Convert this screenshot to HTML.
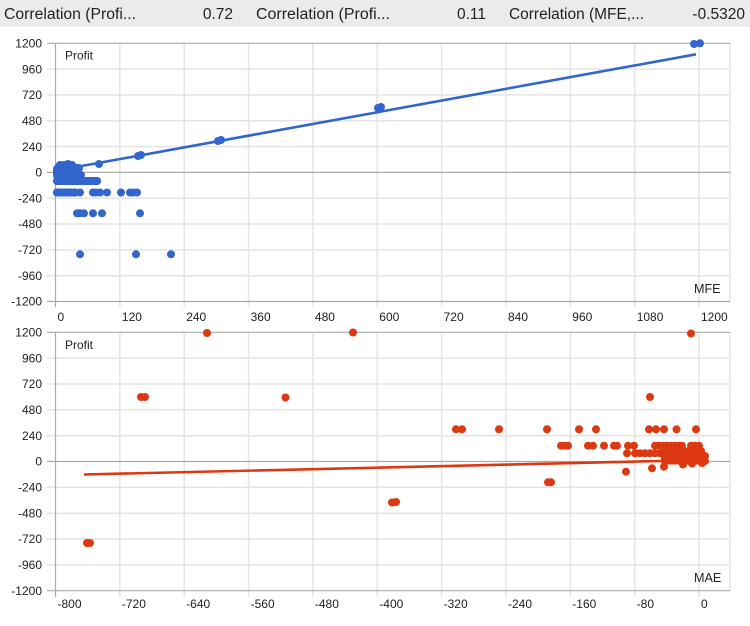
<!DOCTYPE html>
<html><head><meta charset="utf-8"><style>
html,body{margin:0;padding:0;background:#fff;}
svg{display:block;}
text{font-family:"Liberation Sans",Arial,sans-serif;fill:#222;}
</style></head><body>
<svg width="750" height="626" viewBox="0 0 750 626" xmlns="http://www.w3.org/2000/svg">
<rect x="0" y="0" width="750" height="27" fill="#ebebeb"/>
<g font-size="15.5">
<text x="4" y="19" textLength="132" lengthAdjust="spacingAndGlyphs">Correlation (Profi...</text>
<text x="233" y="19" text-anchor="end">0.72</text>
<text x="256" y="19" textLength="134" lengthAdjust="spacingAndGlyphs">Correlation (Profi...</text>
<text x="486" y="19" text-anchor="end">0.11</text>
<text x="509" y="19" textLength="135" lengthAdjust="spacingAndGlyphs">Correlation (MFE,...</text>
<text x="745" y="19" text-anchor="end">-0.5320</text>
</g>

<!-- ========== TOP CHART ========== -->
<g stroke="#e4e4e4" stroke-width="1.5">
<line x1="55.5" y1="69.1" x2="730" y2="69.1"/>
<line x1="55.5" y1="94.9" x2="730" y2="94.9"/>
<line x1="55.5" y1="120.8" x2="730" y2="120.8"/>
<line x1="55.5" y1="146.6" x2="730" y2="146.6"/>
<line x1="55.5" y1="198.2" x2="730" y2="198.2"/>
<line x1="55.5" y1="224.0" x2="730" y2="224.0"/>
<line x1="55.5" y1="249.9" x2="730" y2="249.9"/>
<line x1="55.5" y1="275.7" x2="730" y2="275.7"/>
<line x1="119.85" y1="43.3" x2="119.85" y2="301.5"/>
<line x1="184.2" y1="43.3" x2="184.2" y2="301.5"/>
<line x1="248.55" y1="43.3" x2="248.55" y2="301.5"/>
<line x1="312.9" y1="43.3" x2="312.9" y2="301.5"/>
<line x1="377.25" y1="43.3" x2="377.25" y2="301.5"/>
<line x1="441.6" y1="43.3" x2="441.6" y2="301.5"/>
<line x1="505.95" y1="43.3" x2="505.95" y2="301.5"/>
<line x1="570.3" y1="43.3" x2="570.3" y2="301.5"/>
<line x1="634.65" y1="43.3" x2="634.65" y2="301.5"/>
<line x1="699" y1="43.3" x2="699" y2="301.5"/>
<line x1="730" y1="43.3" x2="730" y2="301.5"/>
</g>
<g stroke="#e4e4e4" stroke-width="1.5">
<line x1="119.85" y1="301.5" x2="119.85" y2="307"/>
<line x1="184.2" y1="301.5" x2="184.2" y2="307"/>
<line x1="248.55" y1="301.5" x2="248.55" y2="307"/>
<line x1="312.9" y1="301.5" x2="312.9" y2="307"/>
<line x1="377.25" y1="301.5" x2="377.25" y2="307"/>
<line x1="441.6" y1="301.5" x2="441.6" y2="307"/>
<line x1="505.95" y1="301.5" x2="505.95" y2="307"/>
<line x1="570.3" y1="301.5" x2="570.3" y2="307"/>
<line x1="634.65" y1="301.5" x2="634.65" y2="307"/>
<line x1="699" y1="301.5" x2="699" y2="307"/>
<line x1="47" y1="69.1" x2="55.5" y2="69.1"/>
<line x1="47" y1="94.9" x2="55.5" y2="94.9"/>
<line x1="47" y1="120.8" x2="55.5" y2="120.8"/>
<line x1="47" y1="146.6" x2="55.5" y2="146.6"/>
<line x1="47" y1="198.2" x2="55.5" y2="198.2"/>
<line x1="47" y1="224.0" x2="55.5" y2="224.0"/>
<line x1="47" y1="249.9" x2="55.5" y2="249.9"/>
<line x1="47" y1="275.7" x2="55.5" y2="275.7"/>
</g>
<g stroke="#aaaaaa" stroke-width="1.2">
<line x1="47" y1="43.3" x2="730" y2="43.3"/>
<line x1="47" y1="172.4" x2="730" y2="172.4"/>
<line x1="47" y1="301.5" x2="730" y2="301.5"/>
<line x1="55.5" y1="43.3" x2="55.5" y2="307"/>
</g>
<g font-size="12" text-anchor="end">
<text x="42" y="47.5">1200</text>
<text x="42" y="73.3">960</text>
<text x="42" y="99.1">720</text>
<text x="42" y="125">480</text>
<text x="42" y="150.8">240</text>
<text x="42" y="176.6">0</text>
<text x="42" y="202.4">-240</text>
<text x="42" y="228.2">-480</text>
<text x="42" y="254.1">-720</text>
<text x="42" y="279.9">-960</text>
<text x="42" y="305.7">-1200</text>
</g>
<g font-size="12">
<text x="57.5" y="321">0</text>
<text x="121.9" y="321">120</text>
<text x="186.2" y="321">240</text>
<text x="250.6" y="321">360</text>
<text x="314.9" y="321">480</text>
<text x="379.3" y="321">600</text>
<text x="443.6" y="321">720</text>
<text x="508" y="321">840</text>
<text x="572.3" y="321">960</text>
<text x="636.7" y="321">1080</text>
<text x="701" y="321">1200</text>
<text x="65" y="59.5">Profit</text>
<text x="694" y="293" font-size="12.6">MFE</text>
</g>
<line x1="57" y1="170.5" x2="696" y2="54.3" stroke="#3366cc" stroke-width="2.6"/>
<g fill="#3366cc">
<rect x="53" y="164" width="28" height="16" rx="5"/>
<rect x="53" y="177" width="48" height="8" rx="4"/>
<rect x="53" y="188.5" width="26" height="8" rx="4"/>
<circle cx="694" cy="44" r="4"/><circle cx="700" cy="43.3" r="4"/>
<circle cx="378" cy="108" r="4"/><circle cx="381" cy="107" r="4"/>
<circle cx="218" cy="141" r="4"/><circle cx="221" cy="140" r="4"/>
<circle cx="138" cy="156" r="4"/><circle cx="141" cy="155" r="4"/>
<circle cx="99" cy="164" r="4"/>
<circle cx="79" cy="168" r="4"/>
<circle cx="60" cy="165" r="4"/><circle cx="64" cy="165" r="4"/><circle cx="68" cy="164" r="4"/><circle cx="72" cy="165" r="4"/>
<circle cx="57" cy="170" r="4"/><circle cx="61" cy="170" r="4"/><circle cx="65" cy="170" r="4"/><circle cx="69" cy="170" r="4"/><circle cx="73" cy="170" r="4"/><circle cx="77" cy="171" r="4"/>
<circle cx="57" cy="175" r="4"/><circle cx="61" cy="175" r="4"/><circle cx="65" cy="175" r="4"/><circle cx="69" cy="175" r="4"/><circle cx="73" cy="175" r="4"/><circle cx="77" cy="175" r="4"/><circle cx="81" cy="175" r="4"/>
<circle cx="57" cy="181" r="4"/><circle cx="61" cy="181" r="4"/><circle cx="65" cy="181" r="4"/><circle cx="69" cy="181" r="4"/><circle cx="73" cy="181" r="4"/><circle cx="77" cy="181" r="4"/><circle cx="81" cy="181" r="4"/><circle cx="85" cy="181" r="4"/><circle cx="89" cy="181" r="4"/><circle cx="93" cy="181" r="4"/><circle cx="97" cy="181" r="4"/>
<circle cx="57" cy="192.5" r="4"/><circle cx="60" cy="192.5" r="4"/><circle cx="63" cy="192.5" r="4"/><circle cx="66" cy="192.5" r="4"/><circle cx="69" cy="192.5" r="4"/><circle cx="72" cy="192.5" r="4"/><circle cx="75" cy="192.5" r="4"/><circle cx="80" cy="192.5" r="4"/>
<circle cx="93" cy="192.5" r="4"/><circle cx="96" cy="192.5" r="4"/><circle cx="100" cy="192.5" r="4"/><circle cx="107" cy="192.5" r="4"/><circle cx="121" cy="192.5" r="4"/><circle cx="130" cy="192.5" r="4"/><circle cx="133" cy="192.5" r="4"/><circle cx="137" cy="192.5" r="4"/>
<circle cx="77" cy="213.3" r="4"/><circle cx="80" cy="213.3" r="4"/><circle cx="84" cy="213.3" r="4"/><circle cx="93" cy="213.3" r="4"/><circle cx="102" cy="213.3" r="4"/><circle cx="140" cy="213.3" r="4"/>
<circle cx="80" cy="254.3" r="4"/><circle cx="136" cy="254.3" r="4"/><circle cx="171" cy="254.3" r="4"/>
</g>

<!-- ========== BOTTOM CHART ========== -->
<g stroke="#e4e4e4" stroke-width="1.5">
<line x1="55.5" y1="358.1" x2="730" y2="358.1"/>
<line x1="55.5" y1="384.0" x2="730" y2="384.0"/>
<line x1="55.5" y1="409.8" x2="730" y2="409.8"/>
<line x1="55.5" y1="435.7" x2="730" y2="435.7"/>
<line x1="55.5" y1="487.3" x2="730" y2="487.3"/>
<line x1="55.5" y1="513.2" x2="730" y2="513.2"/>
<line x1="55.5" y1="539.0" x2="730" y2="539.0"/>
<line x1="55.5" y1="564.9" x2="730" y2="564.9"/>
<line x1="119.85" y1="332.3" x2="119.85" y2="590.7"/>
<line x1="184.2" y1="332.3" x2="184.2" y2="590.7"/>
<line x1="248.55" y1="332.3" x2="248.55" y2="590.7"/>
<line x1="312.9" y1="332.3" x2="312.9" y2="590.7"/>
<line x1="377.25" y1="332.3" x2="377.25" y2="590.7"/>
<line x1="441.6" y1="332.3" x2="441.6" y2="590.7"/>
<line x1="505.95" y1="332.3" x2="505.95" y2="590.7"/>
<line x1="570.3" y1="332.3" x2="570.3" y2="590.7"/>
<line x1="634.65" y1="332.3" x2="634.65" y2="590.7"/>
<line x1="699" y1="332.3" x2="699" y2="590.7"/>
<line x1="730" y1="332.3" x2="730" y2="590.7"/>
<line x1="119.85" y1="590.7" x2="119.85" y2="597"/>
<line x1="184.2" y1="590.7" x2="184.2" y2="597"/>
<line x1="248.55" y1="590.7" x2="248.55" y2="597"/>
<line x1="312.9" y1="590.7" x2="312.9" y2="597"/>
<line x1="377.25" y1="590.7" x2="377.25" y2="597"/>
<line x1="441.6" y1="590.7" x2="441.6" y2="597"/>
<line x1="505.95" y1="590.7" x2="505.95" y2="597"/>
<line x1="570.3" y1="590.7" x2="570.3" y2="597"/>
<line x1="634.65" y1="590.7" x2="634.65" y2="597"/>
<line x1="699" y1="590.7" x2="699" y2="597"/>
<line x1="47" y1="358.1" x2="55.5" y2="358.1"/>
<line x1="47" y1="384.0" x2="55.5" y2="384.0"/>
<line x1="47" y1="409.8" x2="55.5" y2="409.8"/>
<line x1="47" y1="435.7" x2="55.5" y2="435.7"/>
<line x1="47" y1="487.3" x2="55.5" y2="487.3"/>
<line x1="47" y1="513.2" x2="55.5" y2="513.2"/>
<line x1="47" y1="539.0" x2="55.5" y2="539.0"/>
<line x1="47" y1="564.9" x2="55.5" y2="564.9"/>
</g>
<g stroke="#aaaaaa" stroke-width="1.2">
<line x1="47" y1="332.3" x2="730" y2="332.3"/>
<line x1="47" y1="461.5" x2="730" y2="461.5"/>
<line x1="47" y1="590.7" x2="730" y2="590.7"/>
<line x1="55.5" y1="332.3" x2="55.5" y2="597"/>
</g>
<g font-size="12" text-anchor="end">
<text x="42" y="336.5">1200</text>
<text x="42" y="362.3">960</text>
<text x="42" y="388.2">720</text>
<text x="42" y="414">480</text>
<text x="42" y="439.9">240</text>
<text x="42" y="465.7">0</text>
<text x="42" y="491.5">-240</text>
<text x="42" y="517.4">-480</text>
<text x="42" y="543.2">-720</text>
<text x="42" y="569.1">-960</text>
<text x="42" y="594.9">-1200</text>
</g>
<g font-size="12">
<text x="57.5" y="608">-800</text>
<text x="121.9" y="608">-720</text>
<text x="186.2" y="608">-640</text>
<text x="250.6" y="608">-560</text>
<text x="314.9" y="608">-480</text>
<text x="379.3" y="608">-400</text>
<text x="443.6" y="608">-320</text>
<text x="508" y="608">-240</text>
<text x="572.3" y="608">-160</text>
<text x="636.7" y="608">-80</text>
<text x="701" y="608">0</text>
<text x="65" y="349">Profit</text>
<text x="694" y="582" font-size="12.6">MAE</text>
</g>
<line x1="84" y1="474.5" x2="703" y2="460" stroke="#dc3912" stroke-width="2.6"/>
<g fill="#dc3912">
<circle cx="207" cy="333" r="4"/><circle cx="353" cy="332.5" r="4"/><circle cx="691" cy="333.5" r="4"/>
<circle cx="141" cy="397" r="4"/><circle cx="145" cy="397" r="4"/><circle cx="285.5" cy="397.5" r="4"/><circle cx="650" cy="397" r="4"/>
<circle cx="87" cy="543" r="4"/><circle cx="90" cy="543" r="4"/>
<circle cx="392" cy="502.5" r="4"/><circle cx="396" cy="502" r="4"/>
<circle cx="548" cy="482.3" r="4"/><circle cx="551" cy="482.3" r="4"/>
<circle cx="456" cy="429.3" r="4"/><circle cx="462" cy="429.3" r="4"/><circle cx="499" cy="429.3" r="4"/><circle cx="547" cy="429.3" r="4"/><circle cx="579" cy="429.3" r="4"/><circle cx="596" cy="429.3" r="4"/><circle cx="649" cy="429.3" r="4"/><circle cx="656" cy="429.3" r="4"/><circle cx="664" cy="429.3" r="4"/><circle cx="676.5" cy="429.3" r="4"/><circle cx="696" cy="429.3" r="4"/>
<circle cx="561" cy="445.7" r="4"/><circle cx="565" cy="445.7" r="4"/><circle cx="568" cy="445.7" r="4"/><circle cx="588" cy="445.7" r="4"/><circle cx="593" cy="445.7" r="4"/><circle cx="604" cy="445.7" r="4"/><circle cx="614" cy="445.7" r="4"/><circle cx="617" cy="445.7" r="4"/><circle cx="628" cy="445.7" r="4"/><circle cx="634" cy="445.7" r="4"/>
<circle cx="655" cy="445.7" r="4"/><circle cx="659" cy="445.7" r="4"/><circle cx="663" cy="445.7" r="4"/><circle cx="667" cy="445.7" r="4"/><circle cx="671" cy="445.7" r="4"/><circle cx="675" cy="445.7" r="4"/><circle cx="679" cy="445.7" r="4"/><circle cx="682" cy="445.7" r="4"/><circle cx="691" cy="445.7" r="4"/><circle cx="695" cy="445.7" r="4"/><circle cx="699" cy="445.7" r="4"/>
<circle cx="627" cy="453.3" r="4"/><circle cx="635" cy="453.3" r="4"/><circle cx="640" cy="453.3" r="4"/><circle cx="645" cy="453.3" r="4"/><circle cx="650" cy="453.3" r="4"/><circle cx="655" cy="453.3" r="4"/><circle cx="660" cy="453.3" r="4"/>
<rect x="661" y="447.5" width="44" height="17" rx="3"/>
<circle cx="705" cy="456" r="4"/><circle cx="705" cy="461" r="4"/>
<circle cx="626" cy="471.7" r="4"/><circle cx="652" cy="468.3" r="4"/><circle cx="664" cy="466.7" r="4"/><circle cx="683" cy="464.5" r="4"/><circle cx="692" cy="463.5" r="4"/><circle cx="702" cy="463" r="4"/>
</g>
</svg>
</body></html>
